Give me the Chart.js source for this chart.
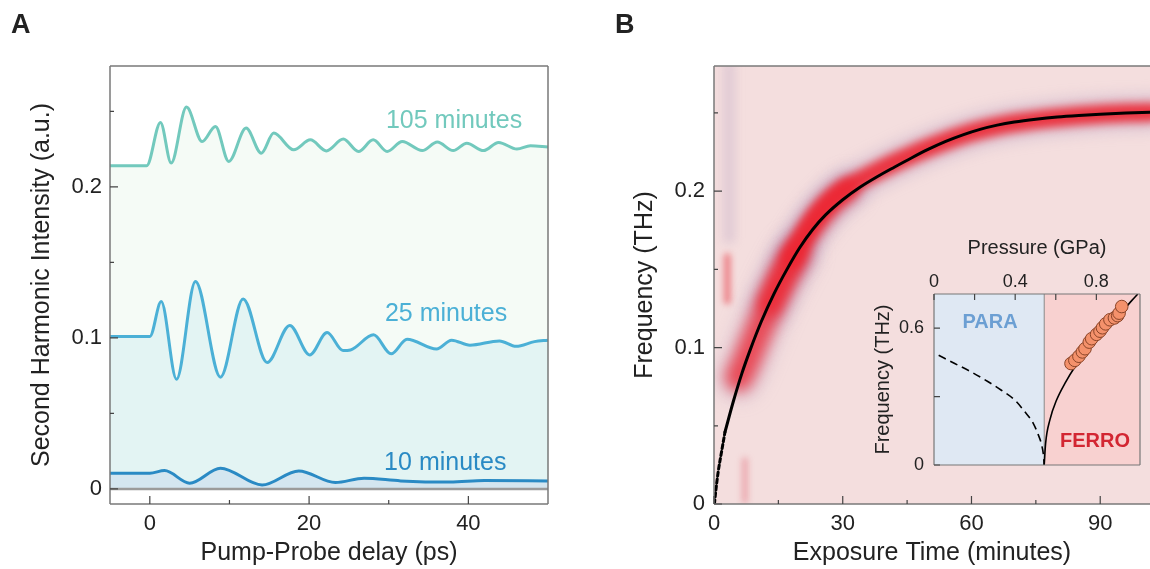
<!DOCTYPE html>
<html>
<head>
<meta charset="utf-8">
<script src="https://cdn.jsdelivr.net/npm/chart.js@4.4.1/dist/chart.umd.min.js"></script>
<style>
  html, body { margin: 0; padding: 0; background: #fff; width: 1150px; height: 569px; overflow: hidden; }
  #wrap { position: relative; width: 1150px; height: 569px; }
  canvas { position: absolute; }
  .panel { position: absolute; font: bold 27px "Liberation Sans", Arial, sans-serif; line-height: 27px; color: #222; }
</style>
</head>
<body>
<div id="wrap">
  <canvas id="chartA" width="590" height="569" style="left:0;top:0"></canvas>
  <canvas id="chartB" width="550" height="569" style="left:600px;top:0"></canvas>
  <canvas id="chartInset" width="290" height="260" style="left:860px;top:230px"></canvas>
  <div class="panel" style="left:11px;top:11px">A</div>
  <div class="panel" style="left:615px;top:11px">B</div>
</div>
<script>
// ---- Panel A: SHG traces vs pump-probe delay ----
const seriesNames = ['10 minutes', '25 minutes', '105 minutes'];

const delay105 = [-5, -0.4, 1.34, 2.68, 4.6, 6.57, 8.24, 9.91, 12.09, 14.0, 15.56, 18.07, 20.16, 22.17, 24.3, 26.2, 28.05, 29.8, 31.7, 34.2, 36.1, 38.1, 39.8, 41.9, 43.8, 46.1, 47.8, 50];
const shg105 = [0.2139, 0.2139, 0.2426, 0.2157, 0.2528, 0.2300, 0.2400, 0.2168, 0.2389, 0.2223, 0.2356, 0.2245, 0.2311, 0.2238, 0.2316, 0.2234, 0.2311, 0.2234, 0.2300, 0.2240, 0.2296, 0.2240, 0.2289, 0.2240, 0.2294, 0.2250, 0.2272, 0.2263];

const delay25 = [-5, 0.0, 1.43, 3.35, 5.73, 8.87, 11.72, 14.73, 17.57, 20.08, 22.26, 24.26, 25.2, 28.1, 30.3, 32.3, 36.0, 37.9, 40.2, 43.9, 46.0, 48.3, 50];
const shg25 = [0.1009, 0.1009, 0.1240, 0.0726, 0.1373, 0.0740, 0.1258, 0.0837, 0.1082, 0.0887, 0.1035, 0.0916, 0.0920, 0.1020, 0.0894, 0.0991, 0.0927, 0.0985, 0.0951, 0.0980, 0.0944, 0.0975, 0.0985];

const delay10 = [-5, 0, 1.85, 5.0, 8.87, 14.1, 18.7, 23.3, 26.9, 31.5, 37.7, 42, 50];
const shg10 = [0.0104, 0.0104, 0.0121, 0.0038, 0.0137, 0.0026, 0.0119, 0.0042, 0.0071, 0.0053, 0.0045, 0.0055, 0.0053];

const zeroDelay = [-5, 50];
const zeroLevel = [0, 0];

const delayTicks = [0, 10, 20, 30, 40];
const delayTickLabels = ['0', '', '20', '', '40'];
const shgTicks = [0, 0.05, 0.1, 0.15, 0.2, 0.25];
const shgTickLabels = ['0', '', '0.1', '', '0.2', ''];

// ---- Panel B: soft-mode frequency vs exposure time ----
const fitTimeDashed = [0.1, 0.4, 1.0, 1.8, 2.56];
const fitFreqDashed = [0, 0.008, 0.021, 0.034, 0.046];
const fitTime = [2.56, 4.5, 6.5, 8.5, 11, 14, 17, 20, 23, 26, 30, 34, 38, 42, 46, 50, 54, 58, 62, 66, 70, 75, 80, 85, 90, 96, 101.7];
const fitFreq = [0.046, 0.0655, 0.0835, 0.099, 0.1165, 0.1345, 0.150, 0.164, 0.1755, 0.1848, 0.1945, 0.2025, 0.2092, 0.2153, 0.2212, 0.2268, 0.2318, 0.2360, 0.2395, 0.2422, 0.2442, 0.2460, 0.2474, 0.2484, 0.2492, 0.2499, 0.2504];

// red spectral band (intensity map ridge)
const bandEarlyTime = [5.8, 7.5, 10, 13, 16, 19];
const bandEarlyFreq = [0.081, 0.091, 0.108, 0.127, 0.144, 0.159];
const bandMidTime = [13, 16, 19, 22, 25, 28, 31];
const bandMidFreq = [0.128, 0.146, 0.161, 0.174, 0.185, 0.194, 0.2005];
const bandTime = [18, 21, 24, 27, 30, 34, 38, 42, 46, 50, 55, 60, 65, 70, 80, 90, 102];
const bandFreq = [0.157, 0.172, 0.1845, 0.1935, 0.2005, 0.207, 0.2128, 0.2182, 0.2232, 0.2278, 0.233, 0.2375, 0.241, 0.2436, 0.247, 0.2492, 0.2505];
const streakTime = [3.5, 3.5];
const streakFreq = [0.28, 0.17];
const blobTime = [3.1, 3.1];
const blobFreq = [0.13, 0.158];
const blobLowTime = [7.2, 7.2];
const blobLowFreq = [0.002, 0.028];

const timeTicks = [0, 15, 30, 45, 60, 75, 90];
const timeTickLabels = ['0', '', '30', '', '60', '', '90'];
const freqTicks = [0, 0.05, 0.1, 0.15, 0.2, 0.25];
const freqTickLabels = ['0', '', '0.1', '', '0.2', ''];

// ---- Inset: frequency vs pressure ----
const pressureDashed = [0.023, 0.102, 0.184, 0.267, 0.332, 0.398, 0.447, 0.489, 0.514, 0.530, 0.540, 0.543];
const freqDashed = [0.481, 0.445, 0.408, 0.365, 0.328, 0.285, 0.234, 0.183, 0.132, 0.089, 0.038, 0.0];
const pressureFit = [0.543, 0.550, 0.571, 0.604, 0.645, 0.694, 0.744, 0.793, 0.859, 0.925, 0.974, 1.004];
const freqFit = [0.0, 0.096, 0.198, 0.285, 0.358, 0.430, 0.488, 0.539, 0.605, 0.670, 0.721, 0.750];
const pressurePts = [0.675, 0.694, 0.714, 0.731, 0.744, 0.765, 0.777, 0.801, 0.818, 0.830, 0.846, 0.867, 0.889, 0.905, 0.912, 0.925];
const freqPts = [0.445, 0.459, 0.477, 0.496, 0.510, 0.539, 0.554, 0.573, 0.587, 0.602, 0.619, 0.637, 0.645, 0.655, 0.666, 0.695];
const phaseEdges = [0, 0.543, 1.015];
const phaseNames = ['PARA', 'FERRO'];

const pressureTicks = [0, 0.2, 0.4, 0.6, 0.8];
const pressureTickLabels = ['0', '', '0.4', '', '0.8'];
const insetFreqTicks = [0, 0.3, 0.6];
const insetFreqTickLabels = ['0', '', '0.6'];

const FONT = '"Liberation Sans", Arial, Helvetica, sans-serif';
const pts = (xs, ys) => xs.map((x, i) => ({ x: x, y: ys[i] }));

// frame around the plot area
const frame = {
  id: 'frame',
  afterDatasetsDraw(chart, args, opts) {
    const { ctx, chartArea: a } = chart;
    const s = opts.sides || 'tlbr';
    ctx.save();
    ctx.strokeStyle = opts.color || '#777';
    ctx.lineWidth = opts.width || 1.5;
    ctx.beginPath();
    if (s.includes('t')) { ctx.moveTo(a.left, a.top); ctx.lineTo(a.right, a.top); }
    if (s.includes('r')) { ctx.moveTo(a.right, a.top); ctx.lineTo(a.right, a.bottom); }
    if (s.includes('b')) { ctx.moveTo(a.left, a.bottom); ctx.lineTo(a.right, a.bottom); }
    if (s.includes('l')) { ctx.moveTo(a.left, a.top); ctx.lineTo(a.left, a.bottom); }
    ctx.stroke();
    ctx.restore();
  }
};

// tick marks pointing into the plot
const innerTicks = {
  id: 'innerTicks',
  afterDatasetsDraw(chart, args, opts) {
    const { ctx, chartArea: a } = chart;
    ctx.save();
    ctx.strokeStyle = opts.color || '#444';
    ctx.lineWidth = 1.2;
    ctx.beginPath();
    Object.values(chart.scales).forEach(scale => {
      scale.ticks.forEach(t => {
        const len = t.label ? (opts.major || 8) : (opts.minor || 4);
        const p = scale.getPixelForValue(t.value);
        if (scale.position === 'left') { ctx.moveTo(a.left, p); ctx.lineTo(a.left + len, p); }
        if (scale.position === 'bottom') { ctx.moveTo(p, a.bottom); ctx.lineTo(p, a.bottom - len); }
        if (scale.position === 'top') { ctx.moveTo(p, a.top); ctx.lineTo(p, a.top + len); }
      });
    });
    ctx.stroke();
    ctx.restore();
  }
};

// text placed at data coordinates
const dataLabels = {
  id: 'dataLabels',
  afterDatasetsDraw(chart, args, opts) {
    const { ctx, scales: { x, y } } = chart;
    ctx.save();
    (opts.items || []).forEach(it => {
      ctx.font = it.font;
      ctx.fillStyle = it.color;
      ctx.textAlign = 'center';
      ctx.textBaseline = it.baseline || 'alphabetic';
      ctx.fillText(it.text, x.getPixelForValue(it.x), y.getPixelForValue(it.y));
    });
    ctx.restore();
  }
};

// plain background of the intensity map
const plotBackground = {
  id: 'plotBackground',
  beforeDatasetsDraw(chart, args, opts) {
    const { ctx, chartArea: a } = chart;
    ctx.save();
    ctx.fillStyle = opts.color;
    ctx.fillRect(a.left, a.top, a.right - a.left, a.bottom - a.top);
    ctx.restore();
  }
};

// soften the map ridges with a canvas blur
const softMarks = {
  id: 'softMarks',
  beforeDatasetDraw(chart, args) {
    const b = chart.data.datasets[args.index].blur;
    if (b) { chart.ctx.save(); chart.ctx.filter = 'blur(' + b + 'px)'; }
  },
  afterDatasetDraw(chart, args) {
    if (chart.data.datasets[args.index].blur) chart.ctx.restore();
  }
};

// PARA / FERRO shaded regions
const phaseRegions = {
  id: 'phaseRegions',
  beforeDatasetsDraw(chart, args, opts) {
    const { ctx, chartArea: a, scales: { x } } = chart;
    ctx.save();
    for (let i = 0; i < phaseEdges.length - 1; i++) {
      const x0 = x.getPixelForValue(phaseEdges[i]);
      const x1 = x.getPixelForValue(phaseEdges[i + 1]);
      ctx.fillStyle = opts.colors[i];
      ctx.fillRect(x0, a.top, x1 - x0, a.bottom - a.top);
    }
    ctx.strokeStyle = '#888';
    ctx.lineWidth = 1;
    const xb = x.getPixelForValue(phaseEdges[1]);
    ctx.beginPath(); ctx.moveTo(xb, a.top); ctx.lineTo(xb, a.bottom); ctx.stroke();
    ctx.restore();
  }
};

function fixedTicks(values) {
  return scale => { scale.ticks = values.map(v => ({ value: v })); };
}

const tickFont = { family: FONT, size: 22 };
const titleFont = { family: FONT, size: 25 };

// ---------- Panel A ----------
const colA = ['#2a8ac4', '#4bb0d6', '#72c9bd'];
new Chart(document.getElementById('chartA'), {
  type: 'line',
  data: {
    datasets: [
      { label: 'baseline', data: pts(zeroDelay, zeroLevel), borderColor: '#9b9b9b', borderWidth: 2.5, fill: false },
      { label: seriesNames[0], data: pts(delay10, shg10), borderColor: colA[0], fill: { value: 0 }, backgroundColor: '#d4e6f0' },
      { label: seriesNames[1], data: pts(delay25, shg25), borderColor: colA[1], fill: { value: 0 }, backgroundColor: '#e3f4f3' },
      { label: seriesNames[2], data: pts(delay105, shg105), borderColor: colA[2], fill: { value: 0 }, backgroundColor: '#f5fbf6' }
    ]
  },
  options: {
    responsive: false,
    animation: false,
    layout: { padding: { left: 0, top: 66, right: 42, bottom: 0 } },
    elements: {
      point: { radius: 0 },
      line: { borderWidth: 3, cubicInterpolationMode: 'monotone' }
    },
    plugins: {
      legend: { display: false },
      tooltip: { enabled: false },
      filler: { drawTime: 'beforeDatasetDraw' },
      frame: { sides: 'tlbr', color: '#7a7a7a', width: 1.5 },
      innerTicks: { major: 8, minor: 4 },
      dataLabels: {
        items: [
          { text: seriesNames[2], x: 38.2, y: 0.2389, color: colA[2], font: '25px ' + FONT },
          { text: seriesNames[1], x: 37.2, y: 0.1113, color: colA[1], font: '25px ' + FONT },
          { text: seriesNames[0], x: 37.1, y: 0.0126, color: colA[0], font: '25px ' + FONT }
        ]
      }
    },
    scales: {
      x: {
        type: 'linear', min: -5, max: 50,
        afterBuildTicks: fixedTicks(delayTicks),
        afterFit: s => { s.height = 65; },
        grid: { display: false, drawTicks: false },
        border: { display: false },
        ticks: { autoSkip: false, maxRotation: 0, padding: 7, color: '#222', font: tickFont,
                 callback: (v, i) => delayTickLabels[i] },
        title: { display: true, text: 'Pump-Probe delay (ps)', color: '#222', font: titleFont, padding: { top: 0, bottom: 1 } }
      },
      y: {
        type: 'linear', min: -0.01, max: 0.28,
        afterBuildTicks: fixedTicks(shgTicks),
        afterFit: s => { s.width = 110; },
        grid: { display: false, drawTicks: false },
        border: { display: false },
        ticks: { autoSkip: false, padding: 8, color: '#222', font: tickFont,
                 callback: (v, i) => shgTickLabels[i] },
        title: { display: true, text: 'Second Harmonic Intensity (a.u.)', color: '#222', font: titleFont, padding: { top: 27, bottom: 0 } }
      }
    }
  },
  plugins: [frame, innerTicks, dataLabels]
});

// ---------- Panel B ----------
const bandRed = 'rgba(236, 38, 50, 0.9)';
const haze = 'rgba(165, 140, 185, 0.3)';
new Chart(document.getElementById('chartB'), {
  type: 'line',
  data: {
    datasets: [
      { label: 'fit (extrapolated)', data: pts(fitTimeDashed, fitFreqDashed), borderColor: '#000', borderWidth: 3, borderDash: [4, 3] },
      { label: 'fit', data: pts(fitTime, fitFreq), borderColor: '#000', borderWidth: 3 },
      { label: 'band', data: pts(bandTime, bandFreq), borderColor: bandRed, borderWidth: 19, blur: 4.5 },
      { label: 'band mid', data: pts(bandMidTime, bandMidFreq), borderColor: 'rgba(236, 42, 54, 0.85)', borderWidth: 23, blur: 6 },
      { label: 'band early', data: pts(bandEarlyTime, bandEarlyFreq), borderColor: 'rgba(236, 45, 58, 0.8)', borderWidth: 28, blur: 7 },
      { label: 'band halo', data: pts(bandTime, bandFreq), borderColor: haze, borderWidth: 36, blur: 7 },
      { label: 'mid halo', data: pts(bandMidTime, bandMidFreq), borderColor: haze, borderWidth: 40, blur: 8 },
      { label: 'early halo', data: pts(bandEarlyTime, bandEarlyFreq), borderColor: haze, borderWidth: 44, blur: 9 },
      { label: 'blob', data: pts(blobTime, blobFreq), borderColor: 'rgba(232, 70, 80, 0.6)', borderWidth: 7, blur: 3 },
      { label: 'blob low', data: pts(blobLowTime, blobLowFreq), borderColor: 'rgba(225, 100, 115, 0.45)', borderWidth: 6, blur: 3 },
      { label: 'streak', data: pts(streakTime, streakFreq), borderColor: 'rgba(190, 165, 195, 0.35)', borderWidth: 12, blur: 5 }
    ]
  },
  options: {
    responsive: false,
    animation: false,
    layout: { padding: { left: 0, top: 66, right: 0, bottom: 0 } },
    elements: {
      point: { radius: 0 },
      line: { cubicInterpolationMode: 'monotone', borderCapStyle: 'round', borderJoinStyle: 'round', fill: false }
    },
    plugins: {
      legend: { display: false },
      tooltip: { enabled: false },
      plotBackground: { color: '#f4dede' },
      frame: { sides: 'tlb', color: '#7a7a7a', width: 1.5 },
      innerTicks: { major: 8, minor: 4 }
    },
    scales: {
      x: {
        type: 'linear', min: 0, max: 101.6,
        afterBuildTicks: fixedTicks(timeTicks),
        afterFit: s => { s.height = 65; },
        grid: { display: false, drawTicks: false },
        border: { display: false },
        ticks: { autoSkip: false, maxRotation: 0, padding: 7, color: '#222', font: tickFont,
                 callback: (v, i) => timeTickLabels[i] },
        title: { display: true, text: 'Exposure Time (minutes)', color: '#222', font: titleFont, padding: { top: 0, bottom: 1 } }
      },
      y: {
        type: 'linear', min: 0, max: 0.28,
        afterBuildTicks: fixedTicks(freqTicks),
        afterFit: s => { s.width = 114; },
        grid: { display: false, drawTicks: false },
        border: { display: false },
        ticks: { autoSkip: false, padding: 9, color: '#222', font: tickFont,
                 callback: (v, i) => freqTickLabels[i] },
        title: { display: true, text: 'Frequency (THz)', color: '#222', font: titleFont, padding: { top: 30, bottom: 0 } }
      }
    }
  },
  plugins: [plotBackground, softMarks, frame, innerTicks]
});

// ---------- Inset ----------
const insetTick = { family: FONT, size: 18 };
const insetTitle = { family: FONT, size: 20 };
new Chart(document.getElementById('chartInset'), {
  type: 'line',
  data: {
    datasets: [
      { label: 'measured', data: pts(pressurePts, freqPts), showLine: false, pointRadius: 6.3,
        pointBackgroundColor: '#f4916b', pointBorderColor: '#8a4428', pointBorderWidth: 1 },
      { label: 'ferro fit', data: pts(pressureFit, freqFit), borderColor: '#000', borderWidth: 1.6, pointRadius: 0 },
      { label: 'para', data: pts(pressureDashed, freqDashed), borderColor: '#000', borderWidth: 1.6, borderDash: [8, 5], pointRadius: 0 }
    ]
  },
  options: {
    responsive: false,
    animation: false,
    layout: { padding: { left: 0, top: 0, right: 10, bottom: 25 } },
    elements: { line: { cubicInterpolationMode: 'monotone', fill: false } },
    plugins: {
      legend: { display: false },
      tooltip: { enabled: false },
      phaseRegions: { colors: ['#dfe8f3', '#f8d1d0'] },
      frame: { sides: 'tlbr', color: '#777', width: 1.2 },
      innerTicks: { major: 6, minor: 6 },
      dataLabels: {
        items: [
          { text: phaseNames[0], x: 0.276, y: 0.623, color: '#6c9fd3', font: 'bold 20px ' + FONT, baseline: 'middle' },
          { text: phaseNames[1], x: 0.793, y: 0.102, color: '#d32632', font: 'bold 20px ' + FONT, baseline: 'middle' }
        ]
      }
    },
    scales: {
      x: {
        type: 'linear', position: 'top', min: 0, max: 1.015,
        afterBuildTicks: fixedTicks(pressureTicks),
        afterFit: s => { s.height = 64; },
        grid: { display: false, drawTicks: false },
        border: { display: false },
        ticks: { autoSkip: false, maxRotation: 0, padding: 1, color: '#222', font: insetTick,
                 callback: (v, i) => pressureTickLabels[i] },
        title: { display: true, text: 'Pressure (GPa)', color: '#222', font: insetTitle, padding: { top: 6, bottom: 0 } }
      },
      y: {
        type: 'linear', min: 0, max: 0.75,
        afterBuildTicks: fixedTicks(insetFreqTicks),
        afterFit: s => { s.width = 74; },
        grid: { display: false, drawTicks: false },
        border: { display: false },
        ticks: { autoSkip: false, padding: 10, color: '#222', font: insetTick,
                 callback: (v, i) => insetFreqTickLabels[i] },
        title: { display: true, text: 'Frequency (THz)', color: '#222', font: insetTitle, padding: { top: 11, bottom: 0 } }
      }
    }
  },
  plugins: [phaseRegions, frame, innerTicks, dataLabels]
});
</script>
</body>
</html>
